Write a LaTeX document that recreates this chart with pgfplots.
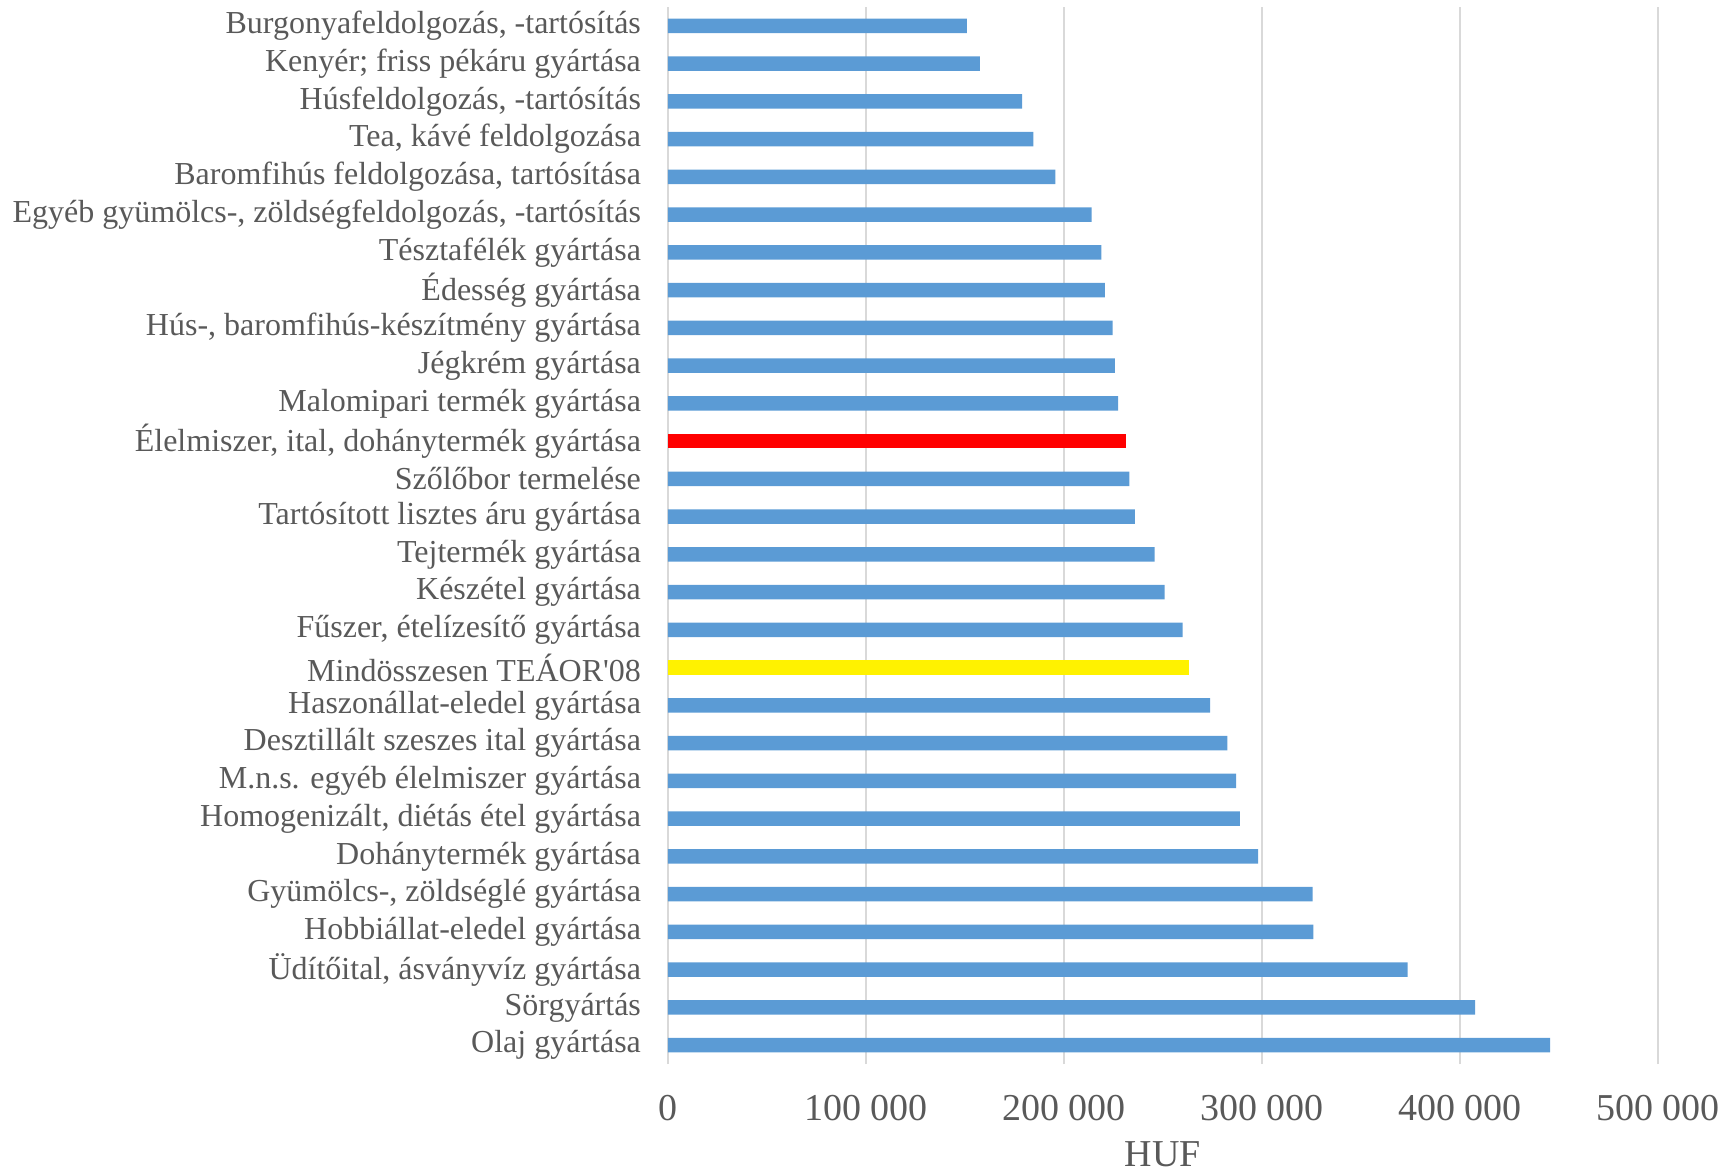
\documentclass[border=0pt]{standalone}
\usepackage{fontspec}
\setmainfont{Liberation Serif}
\usepackage{pgfplots}
\pgfplotsset{compat=1.18}
\definecolor{barblue}{HTML}{5B9BD5}
\definecolor{txt}{HTML}{595959}
\definecolor{grd}{HTML}{D9D9D9}
\begin{document}
\begin{tikzpicture}
\path[use as bounding box] (-334pt,-55pt) rectangle (533.5pt,532pt);
\begin{axis}[name=ax, at={(0,0)}, anchor=south west,
  scale only axis, width=495pt, height=528.5pt,
  xbar, bar width=7.2pt, bar shift=0pt,
  xmin=0, xmax=500000, ymin=-0.5, ymax=27.5,
  scaled x ticks=false,
  axis line style={draw=none}, major tick length=0pt,
  xmajorgrids, ymajorgrids=false, grid style={grd, line width=1pt},
  xtick={0,100000,200000,300000,400000,500000},
  xticklabels={0,100 000,200 000,300 000,400 000,500 000},
  xticklabel style={font=\fontsize{19}{22}\selectfont, text=txt, yshift=-12pt},
  ytick={0,...,27},
  yticklabels={Olaj gyártása,Sörgyártás,{Üdítőital, ásványvíz gyártása},Hobbiállat-eledel gyártása,{Gyümölcs-, zöldséglé gyártása},Dohánytermék gyártása,{Homogenizált, diétás étel gyártása},M.n.s. egyéb élelmiszer gyártása,Desztillált szeszes ital gyártása,Haszonállat-eledel gyártása,Mindösszesen TEÁOR\textquotesingle08,{Fűszer, ételízesítő gyártása},Készétel gyártása,Tejtermék gyártása,Tartósított lisztes áru gyártása,Szőlőbor termelése,{Élelmiszer, ital, dohánytermék gyártása},Malomipari termék gyártása,Jégkrém gyártása,{Hús-, baromfihús-készítmény gyártása},Édesség gyártása,Tésztafélék gyártása,{Egyéb gyümölcs-, zöldségfeldolgozás, -tartósítás},{Baromfihús feldolgozása, tartósítása},{Tea, kávé feldolgozása},{Húsfeldolgozás, -tartósítás},{Kenyér; friss pékáru gyártása},{Burgonyafeldolgozás, -tartósítás}},
  yticklabel style={font=\fontsize{16}{18}\selectfont, text=txt, xshift=-10pt},
  xlabel={HUF}, xlabel style={font=\fontsize{19}{22}\selectfont, text=txt, yshift=-3.5pt},
]
\addplot[fill=barblue, draw=none] coordinates {
(445500,0) (407700,1) (373600,2) (326000,3) (325600,4) (298100,5) (288800,6) (286900,7) (282500,8) (273800,9)
(259900,11) (250800,12) (245800,13) (235800,14) (233000,15)
(227400,17) (225700,18) (224600,19) (220700,20) (218900,21) (213900,22) (195600,23) (184500,24) (178900,25) (157500,26) (151000,27)};
\addplot[fill=yellow, draw=none] coordinates {(263000,10)};
\addplot[fill=red, draw=none] coordinates {(231300,16)};
\end{axis}
\end{tikzpicture}
\end{document}
